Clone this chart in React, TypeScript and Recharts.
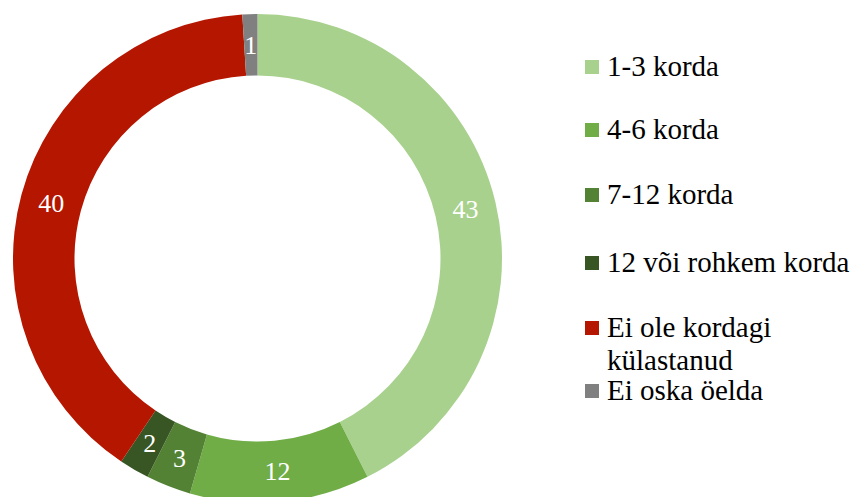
import React from "react";
import { PieChart, Pie, Cell, Customized } from "recharts";

const categories = ["1-3 korda", "4-6 korda", "7-12 korda", "12 või rohkem korda", "Ei ole kordagi külastanud", "Ei oska öelda"];
const values = [43, 12, 3, 2, 40, 1];
const colors = ["#A9D18E", "#70AD47", "#548235", "#375623", "#B51600", "#808080"];

const data = categories.map((name, i) => ({ name, value: values[i] }));

const FONT = "'Liberation Serif', Tinos, 'Times New Roman', serif";
const RAD = Math.PI / 180;

const renderLabel = (props: any) => {
  const { cx, cy, midAngle, innerRadius, outerRadius, value } = props;
  const r = (innerRadius + outerRadius) / 2;
  const x = cx + r * Math.cos(-midAngle * RAD);
  const y = cy + r * Math.sin(-midAngle * RAD);
  return (
    <text x={x} y={y + 9} fill="#ffffff" textAnchor="middle" style={{ fontFamily: FONT, fontSize: 26 }}>
      {value}
    </text>
  );
};

const legendLines = [["1-3 korda"], ["4-6 korda"], ["7-12 korda"], ["12 või rohkem korda"], ["Ei ole kordagi", "külastanud"], ["Ei oska öelda"]];
const legendBaselines = [76, 139, 204, 272, 337, 400];

const LegendSvg = () => (
  <g>
    {legendLines.map((lines, i) => (
      <g key={i}>
        <rect x={585} y={legendBaselines[i] - 16} width={14} height={14} fill={colors[i]} />
        {lines.map((l, j) => (
          <text key={j} x={607} y={legendBaselines[i] + j * 33} fill="#000" style={{ fontFamily: FONT, fontSize: 29 }}>
            {l}
          </text>
        ))}
      </g>
    ))}
  </g>
);

export default function App() {
  return (
    <div style={{ position: "absolute", left: 0, top: 0, width: 853, height: 497, background: "#fff", overflow: "hidden", fontFamily: FONT }}>
      <PieChart width={853} height={497} margin={{ top: 0, right: 0, bottom: 0, left: 0 }}>
        <Pie
          data={data}
          dataKey="value"
          nameKey="name"
          cx={257.5}
          cy={258.5}
          innerRadius={183}
          outerRadius={244.5}
          startAngle={90}
          endAngle={-270}
          stroke="none"
          label={renderLabel}
          labelLine={false}
          isAnimationActive={false}
        >
          {data.map((d, i) => (
            <Cell key={d.name} fill={colors[i]} />
          ))}
        </Pie>
        <Customized component={LegendSvg} />
      </PieChart>
    </div>
  );
}
